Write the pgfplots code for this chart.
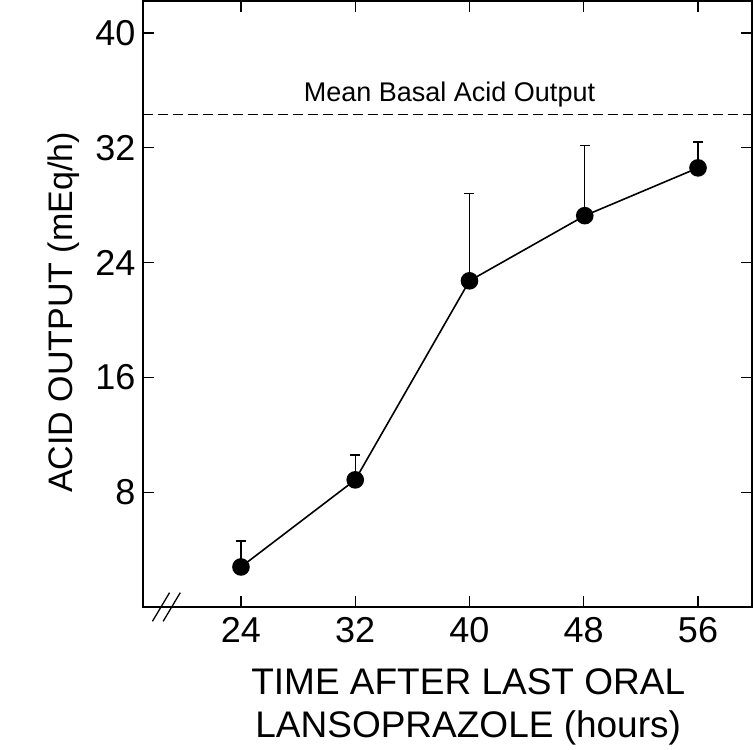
\documentclass[border=0pt]{standalone}
\usepackage{fontspec}
\setmainfont{Liberation Sans}
\usepackage{pgfplots}
\pgfplotsset{compat=1.18}
\begin{document}
\begin{tikzpicture}
\useasboundingbox (-143pt,-143pt) rectangle (613pt,607pt);
\begin{axis}[
  scale only axis,
  width=609pt, height=606pt,
  xmin=17.14, xmax=59.78,
  ymin=0, ymax=42.23,
  xtick={24,32,40,48,56},
  ytick={8,16,24,32,40},
  tick align=inside,
  major tick length=11pt,
  axis line style={line width=1.4pt},
  every tick/.style={line width=1.2pt, black},
  /pgf/number format/assume math mode=true,
  tick label style={font=\fontsize{36}{40}\selectfont},
  xticklabel style={yshift=-7pt},
  yticklabel style={xshift=-4pt},
  xlabel={TIME AFTER LAST ORAL\\LANSOPRAZOLE (hours)},
  xlabel style={align=center, font=\fontsize{37}{43}\selectfont, at={(axis description cs:0.534,0)}, anchor=north, yshift=-58pt},
  ylabel={ACID OUTPUT (mEq/h)},
  ylabel style={font=\fontsize{34}{40}\selectfont, at={(axis description cs:-0.131,0.486)}, anchor=center},
  clip=false,
]
\addplot[black, dash pattern=on 10pt off 5pt, line width=1.1pt, forget plot] coordinates {(17.14,34.3) (59.78,34.3)};
\node[font=\fontsize{27}{30}\selectfont, anchor=base] at (axis cs:38.6,35.25) {Mean Basal Acid Output};
\addplot[black, line width=1.6pt, mark=*, mark size=8pt, mark options={solid, fill=black},
  error bars/.cd, y dir=plus, y explicit,
  error bar style={line width=1.3pt},
  error mark options={rotate=90, mark size=5pt, line width=1.3pt}]
  coordinates {
  (24,2.79) +- (0,1.81)
  (32,8.86) +- (0,1.74)
  (40,22.73) +- (0,6.07)
  (48.07,27.27) +- (0,4.88)
  (56,30.6) +- (0,1.8)
};
\draw[line width=1.3pt] (axis cs:17.80,-1.0) -- (axis cs:19.0,1.0);
\draw[line width=1.3pt] (axis cs:18.55,-1.0) -- (axis cs:19.75,1.0);
\end{axis}
\end{tikzpicture}
\end{document}
